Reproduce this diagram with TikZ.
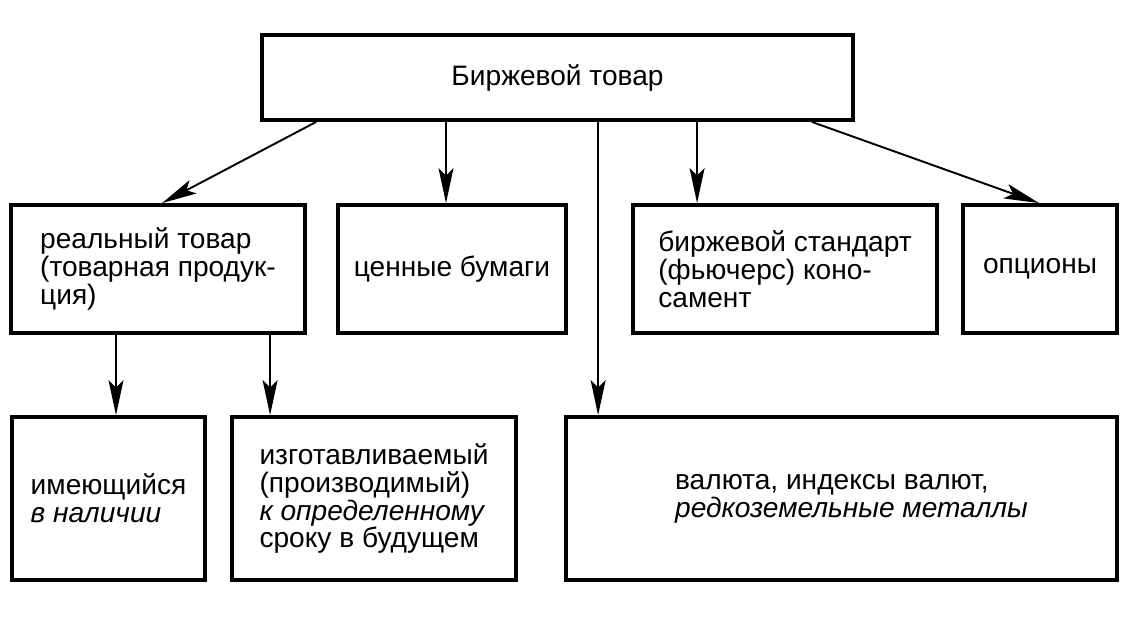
\documentclass[tikz,border=0pt]{standalone}
\usepackage{fontspec}
\setmainfont{Liberation Sans}
\usetikzlibrary{arrows.meta}

\begin{document}
\begin{tikzpicture}[
    x=0.02cm, y=-0.02cm,
    box/.style={rectangle, draw, line width=2.2pt, align=left, inner sep=0pt, font=\fontsize{16}{15.9}\selectfont},
    arrow/.style={-{Stealth[length=7mm, width=3mm, inset=1.5mm]}, line width=1.1pt}
]
    \useasboundingbox (0,0) rectangle (1124,630);

    % Top level
    \node[box, minimum width=11.82cm, minimum height=1.7cm] (good) at (557.5, 77.5) {Биржевой товар};

    % Second row
    \node[box, minimum width=5.88cm, minimum height=2.56cm] (real) at (158, 269) {реальный товар\\(товарная продук-\\ция)};
    \node[box, minimum width=4.56cm, minimum height=2.56cm] (sec) at (452, 269) {ценные бумаги};
    \node[box, minimum width=6.08cm, minimum height=2.56cm] (std) at (785, 269) {биржевой стандарт\\(фьючерс) коно-\\самент};
    \node[box, minimum width=3.08cm, minimum height=2.56cm] (opt) at (1040, 269) {опционы};

    % Third row
    \node[box, minimum width=3.86cm, minimum height=3.26cm] (avail) at (108.5, 498.5) {имеющийся\\\textit{в наличии}};
    \node[box, minimum width=5.68cm, minimum height=3.26cm] (made) at (374, 498.5) {изготавливаемый\\(производимый)\\\textit{к определенному}\\сроку в будущем};
    \node[box, minimum width=11.02cm, minimum height=3.26cm] (fx) at (841.5, 498.5) {\hspace*{0.4cm}валюта, индексы валют,\\\hspace*{0.4cm}\textit{редкоземельные металлы}};

    % Arrow ends
    \coordinate (secin) at ([xshift=-0.12cm]sec.north);
    \coordinate (stdin) at ([xshift=1.32cm]std.north west);
    \coordinate (fxin) at ([xshift=0.68cm]fx.north west);
    \coordinate (availin) at ([xshift=0.15cm]avail.north);
    \coordinate (madein) at ([xshift=0.8cm]made.north west);

    % From the top box
    \draw[arrow] ([xshift=1.12cm]good.south west) -- ([xshift=3.06cm]real.north west);
    \draw[arrow] (good.south -| secin) -- (secin);
    \draw[arrow] (good.south -| fxin) -- (fxin);
    \draw[arrow] (good.south -| stdin) -- (stdin);
    \draw[arrow] ([xshift=-0.86cm]good.south east) -- ([xshift=-0.02cm]opt.north);

    % From the real goods box
    \draw[arrow] (real.south -| availin) -- (availin);
    \draw[arrow] (real.south -| madein) -- (madein);
\end{tikzpicture}
\end{document}
